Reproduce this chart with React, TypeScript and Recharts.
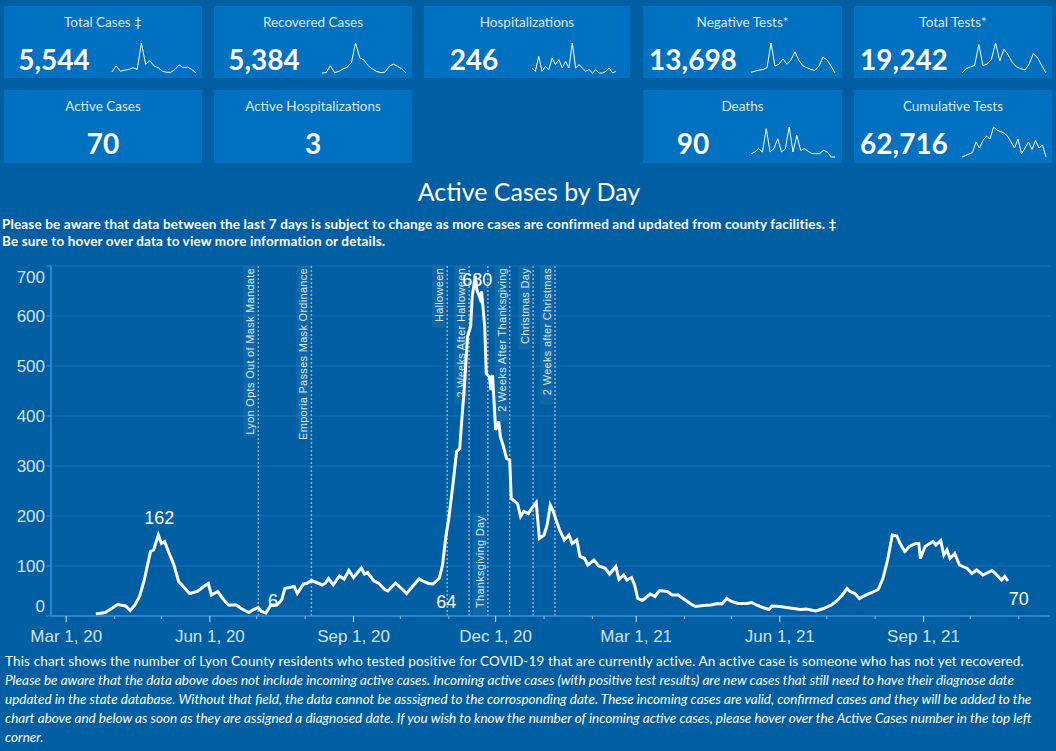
import React from 'react';
import { LineChart, Line, XAxis, YAxis, CartesianGrid, ReferenceLine } from 'recharts';

// days counted from Mar 1, 2020
const caseDays = [
  19, 25, 33, 38, 41, 44, 47, 50, 54, 56,
  59, 61, 63, 66, 69, 72, 75, 79, 84, 88,
  91, 93, 97, 101, 104, 109, 112, 117, 120, 123,
  125, 128, 131, 135, 138, 140, 143, 146, 148, 152,
  154, 157, 161, 164, 166, 168, 171, 175, 178, 181,
  184, 189, 191, 193, 197, 200, 204, 206, 211, 214,
  218, 222, 226, 229, 232, 235, 239, 241, 243, 245,
  248, 250, 252, 253, 255, 257, 259, 260, 262, 263,
  265, 266, 268, 269, 271, 272, 273, 275, 277, 278,
  280, 282, 284, 285, 289, 291, 293, 296, 298, 301,
  303, 306, 308, 310, 312, 314, 316, 319, 322, 324,
  327, 329, 332, 334, 338, 341, 345, 348, 352, 354,
  357, 359, 362, 364, 366, 369, 372, 374, 377, 380,
  385, 388, 392, 395, 400, 403, 408, 413, 417, 420,
  423, 426, 430, 436, 439, 442, 446, 450, 452, 457,
  461, 466, 470, 474, 480, 485, 490, 493, 497, 500,
  502, 505, 508, 512, 516, 520, 523, 526, 528, 529,
  532, 534, 537, 540, 544, 546, 547, 550, 553, 555,
  557, 560, 562, 564, 566, 569, 572, 577, 580, 583,
  587, 593, 596, 599, 601, 603,
];
const activeCases = [
  4, 7, 23, 20, 11, 22, 39, 72, 129, 132,
  162, 145, 149, 125, 102, 69, 59, 45, 49, 59,
  65, 42, 49, 32, 22, 22, 15, 7, 13, 17,
  9, 6, 22, 22, 32, 55, 57, 59, 45, 64,
  65, 71, 66, 62, 66, 75, 62, 80, 74, 91,
  77, 96, 84, 87, 70, 66, 53, 50, 66, 57,
  45, 60, 74, 69, 65, 64, 76, 102, 156, 195,
  272, 329, 335, 379, 459, 559, 579, 639, 680, 652,
  635, 649, 579, 485, 479, 452, 482, 372, 389, 359,
  339, 315, 312, 235, 225, 199, 209, 205, 215, 227,
  155, 162, 182, 222, 209, 189, 172, 152, 162, 145,
  152, 119, 115, 102, 112, 100, 96, 84, 99, 73,
  82, 72, 77, 62, 35, 31, 39, 44, 39, 51,
  49, 42, 42, 35, 24, 19, 21, 22, 25, 24,
  35, 29, 25, 25, 27, 22, 17, 13, 20, 19,
  17, 15, 13, 14, 10, 15, 22, 29, 42, 55,
  49, 45, 35, 42, 47, 53, 75, 112, 145, 162,
  160, 145, 129, 139, 145, 145, 115, 139, 145, 149,
  142, 151, 122, 132, 115, 125, 102, 95, 85, 92,
  82, 91, 82, 72, 79, 70,
];
const labeledDays = [59, 128, 235, 262, 603];

const monthTicks = [0, 31, 61, 92, 122, 153, 184, 214, 245, 275, 306, 337, 365, 396, 426, 457, 487, 518, 549, 579, 610];
const majorTicks = [0, 92, 184, 275, 365, 457, 549];
const majorTickLabels = ['Mar 1, 20', 'Jun 1, 20', 'Sep 1, 20', 'Dec 1, 20', 'Mar 1, 21', 'Jun 1, 21', 'Sep 1, 21'];
const yTicks = [0, 100, 200, 300, 400, 500, 600, 700];

const eventDays = [123, 157, 244, 258, 270, 284, 299, 313];
const eventNames = [
  'Lyon Opts Out of Mask Mandate',
  'Emporia Passes Mask Ordinance',
  'Halloween',
  '2 Weeks After Halloween',
  'Thanksgiving Day',
  '2 Weeks After Thanksgiving',
  'Christmas Day',
  '2 Weeks after Christmas',
];

const topTitles = ['Total Cases ‡', 'Recovered Cases', 'Hospitalizations', 'Negative Tests*', 'Total Tests*'];
const topValues = ['5,544', '5,384', '246', '13,698', '19,242'];
const lowTitles = ['Active Cases', 'Active Hospitalizations', 'Deaths', 'Cumulative Tests'];
const lowValues = ['70', '3', '90', '62,716'];

const totalCasesSpark = [3, 20, 5, 8, 10, 15, 10, 85, 25, 35, 20, 15, 5, 2, 2, 10, 23, 15, 17, 10, 0];
const recoveredSpark = [2, 3, 25, 3, 7, 15, 20, 35, 97, 50, 43, 25, 15, 7, 3, 5, 23, 30, 23, 15, 2];
const hospSpark = [20, 10, 55, 10, 25, 15, 50, 30, 45, 20, 40, 20, 95, 20, 30, 20, 10, 15, 5, 15, 5, 5, 10, 20, 5, 10];
const negTestsSpark = [2, 5, 8, 10, 15, 85, 20, 25, 40, 25, 37, 60, 35, 20, 15, 10, 7, 20, 45, 37, 20, 0];
const totalTestsSpark = [0, 15, 20, 25, 95, 25, 30, 45, 100, 40, 80, 60, 35, 20, 15, 10, 30, 65, 50, 25, 0];
const deathsSpark = [13, 18, 28, 18, 88, 18, 28, 58, 18, 28, 93, 18, 68, 23, 28, 20, 13, 13, 13, 23, 18, 3, 3];
const cumTestsSpark = [0, 5, 10, 15, 50, 30, 55, 70, 60, 100, 90, 85, 80, 70, 50, 30, 60, 10, 30, 50, 25, 55, 30, 40, 0];

const BG = '#005ea3';
const CARD = '#0070c0';
const AXIS = '#3a8edb';
const TEXT_FONT = "Lato, 'Open Sans', sans-serif";
const AXIS_FONT = "'Liberation Sans', Arial, sans-serif";

const caseRows = caseDays.map((d, i) => ({ day: d, v: activeCases[i] }));

function Spark({ data }: { data: number[] }) {
  const rows = data.map((v, i) => ({ i, v }));
  return (
    <LineChart width={86} height={32} data={rows} margin={{ top: 1, right: 1, bottom: 1, left: 1 }}>
      <XAxis dataKey="i" hide />
      <YAxis hide domain={['dataMin', 'dataMax']} />
      <Line type="linear" dataKey="v" stroke="#ffffff" strokeWidth={1} dot={false} isAnimationActive={false} />
    </LineChart>
  );
}

function Card({ x, y, w, h, title, value, spark }: { x: number; y: number; w: number; h: number; title: string; value: string; spark?: number[] }) {
  return (
    <div style={{ position: 'absolute', left: x, top: y, width: w, height: h, background: CARD }}>
      <div style={{ position: 'absolute', top: 8, left: 0, width: w, textAlign: 'center', fontSize: 13.5, lineHeight: '17px', color: '#dcebf8', fontFamily: TEXT_FONT }}>
        {title}
      </div>
      <div style={{ position: 'absolute', top: 37, left: spark ? -10 : 0, width: spark ? 120 : w, textAlign: 'center', fontSize: 28, lineHeight: '32px', fontWeight: 700, color: '#ffffff', fontFamily: TEXT_FONT }}>
        {value}
      </div>
      {spark && (
        <div style={{ position: 'absolute', left: 107, top: 36 }}>
          <Spark data={spark} />
        </div>
      )}
    </div>
  );
}

function XTick(props: any) {
  const { x, y, payload } = props;
  const k = majorTicks.indexOf(payload.value);
  return (
    <g>
      <line x1={x} x2={x} y1={y} y2={y + (k >= 0 ? 6 : 3)} stroke={k >= 0 ? '#cfe1f3' : '#8fbbe6'} strokeWidth={1} />
      {k >= 0 && (
        <text x={x} y={y + 26} textAnchor="middle" fill="#d3e4f5" fontSize={17} fontFamily={AXIS_FONT}>
          {majorTickLabels[k]}
        </text>
      )}
    </g>
  );
}

function YTick(props: any) {
  const { x, y, payload } = props;
  let dy = 6;
  if (payload.value === 700) dy = 17;
  if (payload.value === 0) dy = -4;
  return (
    <text x={x} y={y + dy} textAnchor="end" fill="#d3e4f5" fontSize={17} fontFamily={AXIS_FONT}>
      {payload.value}
    </text>
  );
}

function eventLabel(name: string) {
  const atBottom = name === 'Thanksgiving Day';
  return (props: any) => {
    const vb = props.viewBox || {};
    const x = vb.x ?? 0;
    const top = vb.y ?? 0;
    const bottom = top + (vb.height ?? 0);
    const len = name.length * 5.5 + 8;
    const tx = x - 4;
    if (atBottom) {
      return (
        <g>
          <rect x={x - 15} y={bottom - len - 6} width={13} height={len + 6} fill="rgba(255,255,255,0.06)" />
          <text transform={`translate(${tx},${bottom - 8}) rotate(-90)`} textAnchor="start" fill="#dbe8f5" fontSize={11} letterSpacing={0.3} fontFamily={AXIS_FONT}>
            {name}
          </text>
        </g>
      );
    }
    return (
      <g>
        <rect x={x - 15} y={top} width={13} height={len + 4} fill="rgba(255,255,255,0.06)" />
        <text transform={`translate(${tx},${top + 2}) rotate(-90)`} textAnchor="end" fill="#dbe8f5" fontSize={11} letterSpacing={0.3} fontFamily={AXIS_FONT}>
          {name}
        </text>
      </g>
    );
  };
}

const markOffsets: Record<number, [number, number]> = {
  59: [1, -11],
  128: [7, -6],
  235: [13, 24],
  262: [2, 10],
  603: [11, 24],
};

function renderMark(props: any) {
  const { x, y, index, value } = props;
  const day = caseDays[index];
  if (!labeledDays.includes(day)) return null;
  const [dx, dy] = markOffsets[day];
  return (
    <text x={x + dx} y={y + dy} textAnchor="middle" fill="#ffffff" fontSize={18} fontFamily={AXIS_FONT}>
      {value}
    </text>
  );
}

export default function App() {
  const topX = [4, 214, 424, 643, 854];
  const topW = [198, 198, 206, 199, 198];
  const topSparks = [totalCasesSpark, recoveredSpark, hospSpark, negTestsSpark, totalTestsSpark];
  const lowX = [4, 214, 643, 854];
  const lowW = [198, 198, 199, 198];
  const lowSparks = [undefined, undefined, deathsSpark, cumTestsSpark];
  const italic = { fontStyle: 'italic' as const, letterSpacing: 0 };

  return (
    <div style={{ position: 'absolute', left: 0, top: 0, width: 1056, height: 751, background: BG, overflow: 'hidden', fontFamily: TEXT_FONT }}>
      <style>{'body{margin:0;background:' + BG + '}'}</style>
      {topTitles.map((t, i) => (
        <Card key={t} x={topX[i]} y={6} w={topW[i]} h={72} title={t} value={topValues[i]} spark={topSparks[i]} />
      ))}
      {lowTitles.map((t, i) => (
        <Card key={t} x={lowX[i]} y={90} w={lowW[i]} h={73} title={t} value={lowValues[i]} spark={lowSparks[i]} />
      ))}

      <div style={{ position: 'absolute', top: 176, left: 0, width: 1058, textAlign: 'center', color: '#ffffff', fontSize: 25, lineHeight: '31px' }}>
        Active Cases by Day
      </div>
      <div style={{ position: 'absolute', top: 216, left: 2, color: '#ffffff', fontSize: 13.5, lineHeight: '17px', letterSpacing: 0.14, fontWeight: 700, whiteSpace: 'nowrap' }}>
        <div>Please be aware that data between the last 7 days is subject to change as more cases are confirmed and updated from county facilities. ‡</div>
        <div>Be sure to hover over data to view more information or details.</div>
      </div>

      <div style={{ position: 'absolute', left: 0, top: 250 }}>
        <LineChart width={1056} height={400} data={caseRows} margin={{ top: 16, right: 6, bottom: 4, left: 0 }}>
          <CartesianGrid vertical={false} stroke="#1a6db2" />
          <XAxis
            dataKey="day"
            type="number"
            domain={[-9.73, 630]}
            allowDataOverflow
            ticks={monthTicks}
            interval={0}
            tick={XTick}
            tickLine={false}
            tickSize={0}
            tickMargin={0}
            axisLine={{ stroke: AXIS, strokeWidth: 1.5 }}
            height={30}
          />
          <YAxis
            type="number"
            domain={[0, 700]}
            ticks={yTicks}
            interval={0}
            tick={YTick}
            tickSize={5}
            tickMargin={1}
            tickLine={{ stroke: AXIS }}
            axisLine={{ stroke: AXIS, strokeWidth: 1.5 }}
            width={51}
          />
          {eventDays.map((d, i) => (
            <ReferenceLine
              key={d}
              x={d}
              stroke="#86b3df"
              strokeDasharray="2 2"
              strokeWidth={1.5}
              label={{ content: eventLabel(eventNames[i]) }}
            />
          ))}
          <Line
            type="linear"
            dataKey="v"
            stroke="#ffffff"
            strokeWidth={3}
            dot={false}
            isAnimationActive={false}
            label={renderMark}
          />
        </LineChart>
      </div>

      <div style={{ position: 'absolute', top: 652, left: 5, color: '#ffffff', fontSize: 13.5, lineHeight: '19px', letterSpacing: 0.14, whiteSpace: 'nowrap' }}>
        <div>This chart shows the number of Lyon County residents who tested positive for COVID-19 that are currently active. An active case is someone who has not yet recovered.</div>
        <div style={italic}>Please be aware that the data above does not include incoming active cases. Incoming active cases (with positive test results) are new cases that still need to have their diagnose date</div>
        <div style={italic}>updated in the state database. Without that field, the data cannot be asssigned to the corrosponding date. These incoming cases are valid, confirmed cases and they will be added to the</div>
        <div style={italic}>chart above and below as soon as they are assigned a diagnosed date. If you wish to know the number of incoming active cases, please hover over the Active Cases number in the top left</div>
        <div style={italic}>corner.</div>
      </div>
    </div>
  );
}
